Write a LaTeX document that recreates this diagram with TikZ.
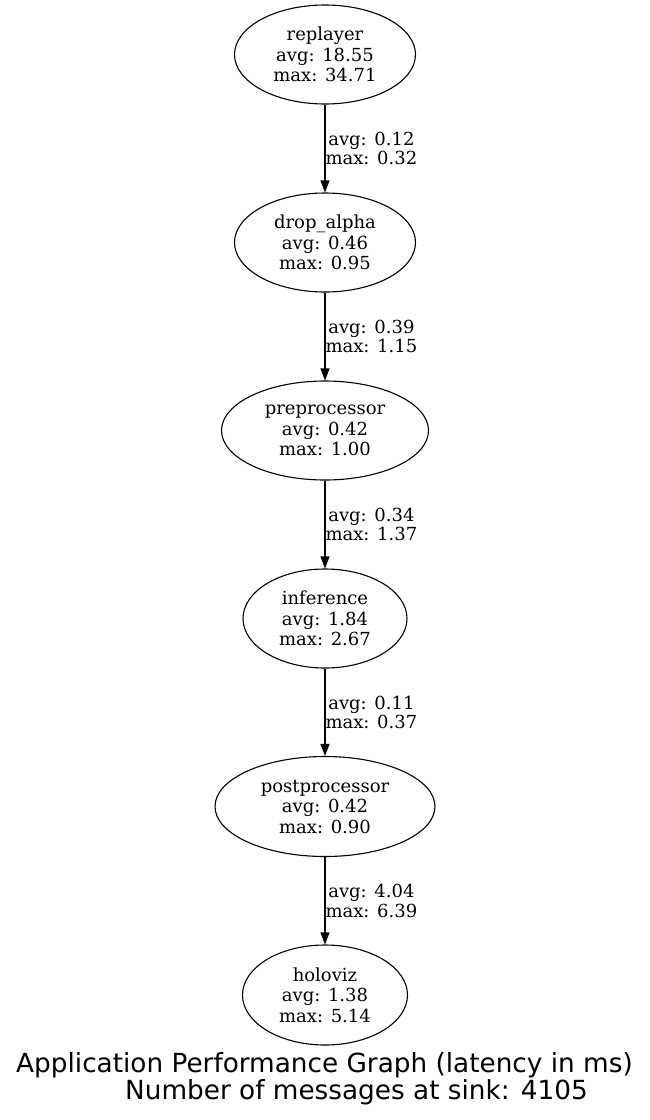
\documentclass[tikz,border=0pt]{standalone}
\usepackage{fontspec}
\setmainfont{DejaVu Serif}
\newfontfamily\titlefont{DejaVu Sans}
\usetikzlibrary{shapes.geometric,arrows.meta}
\begin{document}
\begin{tikzpicture}[x=1pt,y=-1pt,
  proc/.style={ellipse,draw,line width=1.1pt,inner sep=0pt,align=center,
    font=\fontsize{18}{20.5}\selectfont},
  edgelab/.style={anchor=west,align=center,inner sep=0pt,
    font=\fontsize{18}{19.5}\selectfont},
  flow/.style={line width=1.1pt,-{Triangle[length=12pt,width=9pt]}},
  titletext/.style={anchor=base,inner sep=0pt,font=\titlefont\fontsize{26.3}{30}\selectfont}]
\useasboundingbox (0,0) rectangle (649,1120);
\node[proc,minimum width=181pt,minimum height=99pt] (replayer) at (325,54.5) {replayer\\avg: 18.55\\max: 34.71};
\node[proc,minimum width=181pt,minimum height=99pt] (drop) at (325,242.5) {drop\_alpha\\avg: 0.46\\max: 0.95};
\node[proc,minimum width=207pt,minimum height=99pt] (pre) at (325,430.5) {preprocessor\\avg: 0.42\\max: 1.00};
\node[proc,minimum width=164pt,minimum height=99pt] (inf) at (325,618.5) {inference\\avg: 1.84\\max: 2.67};
\node[proc,minimum width=220pt,minimum height=100pt] (post) at (325,806.5) {postprocessor\\avg: 0.42\\max: 0.90};
\node[proc,minimum width=165pt,minimum height=100pt] (holo) at (325,995) {holoviz\\avg: 1.38\\max: 5.14};
\draw[flow] (replayer) -- node[edgelab] (l1) {avg: 0.12\\max: 0.32} (drop);
\draw[flow] (drop) -- node[edgelab] (l2) {avg: 0.39\\max: 1.15} (pre);
\draw[flow] (pre) -- node[edgelab] (l3) {avg: 0.34\\max: 1.37} (inf);
\draw[flow] (inf) -- node[edgelab] (l4) {avg: 0.11\\max: 0.37} (post);
\draw[flow] (post) -- node[edgelab] (l5) {avg: 4.04\\max: 6.39} (holo);
\node[titletext] (title1) at (324.5,1072) {Application Performance Graph (latency in ms)};
\node[titletext] (title2) at (356.5,1099) {Number of messages at sink: 4105};
\end{tikzpicture}
\end{document}
